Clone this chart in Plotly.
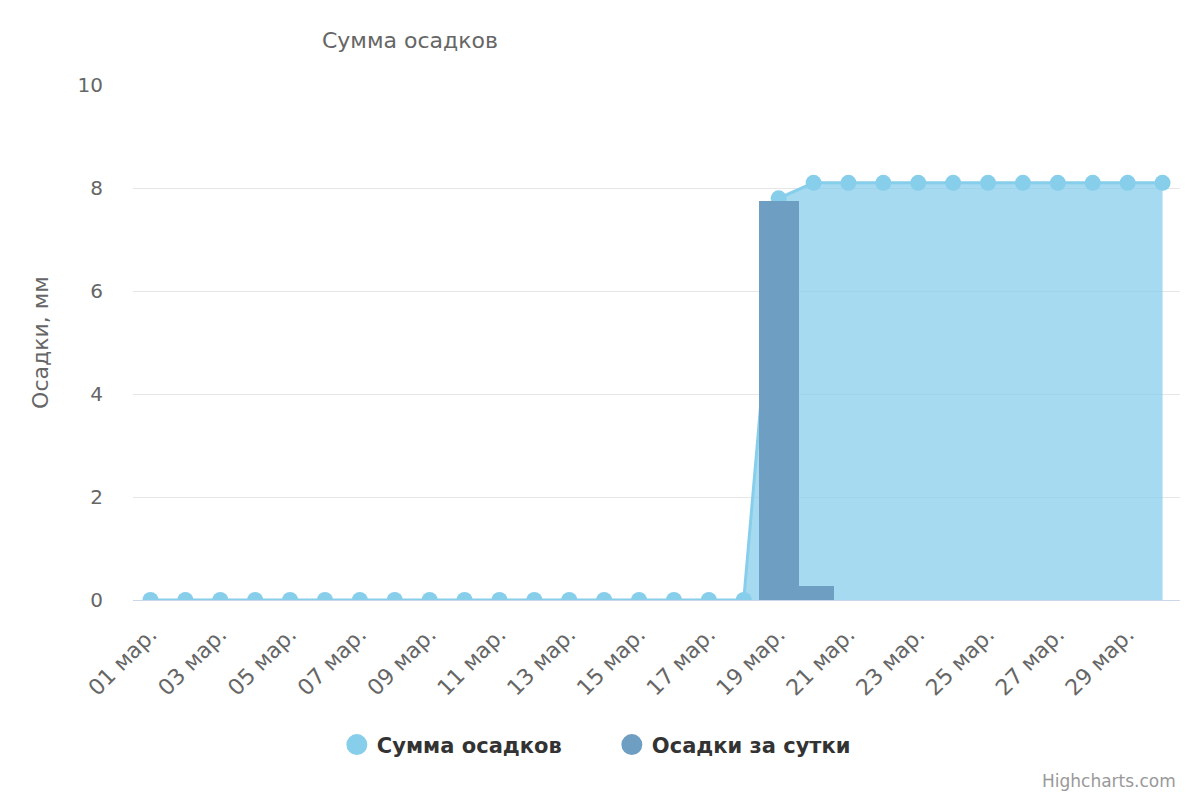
import plotly.graph_objects as go

# Data
days = [
    "01", "02", "03", "04", "05", "06", "07", "08", "09", "10",
    "11", "12", "13", "14", "15", "16", "17", "18", "19", "20",
    "21", "22", "23", "24", "25", "26", "27", "28", "29", "30",
]
total_mm = [
    0, 0, 0, 0, 0, 0, 0, 0, 0, 0,
    0, 0, 0, 0, 0, 0, 0, 0, 7.8, 8.1,
    8.1, 8.1, 8.1, 8.1, 8.1, 8.1, 8.1, 8.1, 8.1, 8.1,
]
daily_mm = [
    0, 0, 0, 0, 0, 0, 0, 0, 0, 0,
    0, 0, 0, 0, 0, 0, 0, 0, 7.75, 0.28,
    0, 0, 0, 0, 0, 0, 0, 0, 0, 0,
]

labels = [d + " мар." for d in days]
idx = list(range(len(days)))

AREA_COLOR = "#87CEEB"
COLUMN_COLOR = "#6E9EC1"
FONT = "DejaVu Sans"

# page body adds an 8px margin, so the figure is drawn slightly smaller
W, H = 1184, 784


def main():
    fig = go.Figure()

    # Cumulative area
    fig.add_trace(
        go.Scatter(
            x=idx,
            y=total_mm,
            mode="lines+markers",
            name="Сумма осадков",
            fill="tozeroy",
            fillcolor="rgba(135,206,235,0.75)",
            line=dict(color=AREA_COLOR, width=3),
            marker=dict(color=AREA_COLOR, size=16),
            showlegend=False,
            hoverinfo="skip",
        )
    )

    # Daily columns (on an overlaying axis so they sit above the area)
    fig.add_trace(
        go.Bar(
            x=idx,
            y=daily_mm,
            name="Осадки за сутки",
            marker=dict(color=COLUMN_COLOR, line=dict(width=0)),
            width=1.15,
            yaxis="y2",
            showlegend=False,
            hoverinfo="skip",
        )
    )

    # Legend entries (circles only)
    for name, color in [("Сумма осадков", AREA_COLOR), ("Осадки за сутки", COLUMN_COLOR)]:
        fig.add_trace(
            go.Scatter(
                x=[None],
                y=[None],
                mode="markers",
                name=name,
                marker=dict(color=color, size=22, line=dict(color=color, width=5)),
            )
        )

    fig.update_layout(
        width=W,
        height=H,
        margin=dict(l=125, r=12, t=77, b=192),
        paper_bgcolor="white",
        plot_bgcolor="white",
        font=dict(family=FONT, color="#666666"),
        title=dict(
            text="Сумма осадков",
            font=dict(size=22, color="#666666"),
            xref="container",
            x=0.3395,
            xanchor="center",
            y=0.959,
            yanchor="middle",
        ),
        xaxis=dict(
            range=[-0.5, 29.5],
            tickmode="array",
            tickvals=idx[::2],
            ticktext=labels[::2],
            tickangle=-45,
            tickfont=dict(size=22, color="#666666"),
            ticklabelstandoff=12,
            showgrid=False,
            showline=True,
            linecolor="#ccd6eb",
            linewidth=1,
            zeroline=False,
            fixedrange=True,
        ),
        yaxis=dict(
            range=[0, 10],
            dtick=2,
            gridcolor="#e6e6e6",
            zeroline=False,
            tickfont=dict(size=20, color="#666666"),
            ticklabelstandoff=29,
            title=dict(text="Осадки, мм", font=dict(size=22, color="#666666"), standoff=22),
        ),
        yaxis2=dict(
            range=[0, 10],
            overlaying="y",
            visible=False,
        ),
        bargap=0,
        legend=dict(
            orientation="h",
            xref="container",
            yref="container",
            x=0.51,
            xanchor="center",
            y=0.06,
            yanchor="middle",
            font=dict(size=21, color="#333333", weight="bold"),
            itemsizing="trace",
            entrywidth=230,
            entrywidthmode="pixels",
        ),
        annotations=[
            dict(
                text="Highcharts.com",
                xref="paper",
                yref="paper",
                x=0.998,
                y=-0.351,
                xanchor="right",
                yanchor="middle",
                showarrow=False,
                font=dict(size=17, color="#999999"),
            )
        ],
    )

    fig.write_html("out.html")


if __name__ == "__main__":
    main()
